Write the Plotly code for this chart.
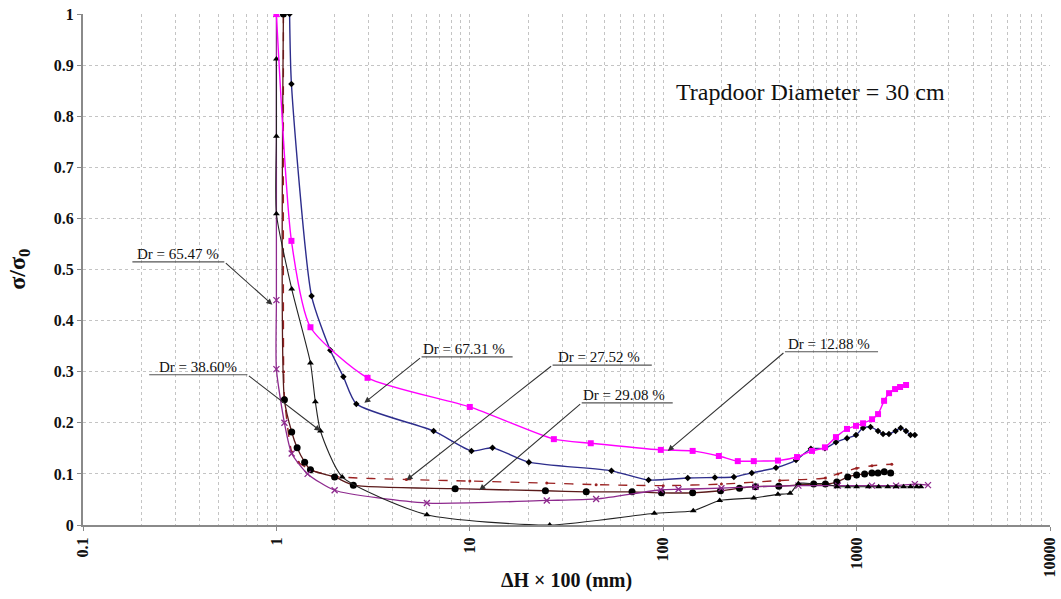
import math
import plotly.graph_objects as go

# ---------------- data ----------------
# Dr = 12.88 % (magenta, squares)
x_1288 = [1.0, 1.196, 1.50, 2.96, 10.0, 27.2, 42.2, 97.2, 142, 194, 243, 294, 392, 492, 588, 686, 782,
          892, 993, 1080, 1202, 1291, 1387, 1472, 1581, 1678, 1802]
y_1288 = [1.0, 0.556, 0.387, 0.288, 0.231, 0.168, 0.160, 0.147, 0.145, 0.135, 0.125, 0.125, 0.126, 0.133,
          0.145, 0.152, 0.172, 0.188, 0.194, 0.199, 0.207, 0.217, 0.243, 0.258, 0.266, 0.270, 0.274]

# Dr = 67.31 % (navy, small diamonds)
x_6731 = [1.17, 1.196, 1.52, 1.90, 2.22, 2.59, 6.5, 10.2, 13.1, 20.2, 54, 84, 134, 185, 232, 287, 383,
          486, 580, 686, 782, 892, 993, 1080, 1180, 1290, 1370, 1470, 1590, 1690, 1800, 1900, 2000]
y_6731 = [1.0, 0.863, 0.448, 0.342, 0.290, 0.237, 0.184, 0.145, 0.151, 0.123, 0.106, 0.088, 0.092, 0.093,
          0.094, 0.102, 0.112, 0.127, 0.149, 0.150, 0.162, 0.170, 0.176, 0.190, 0.192, 0.184, 0.178,
          0.178, 0.184, 0.190, 0.184, 0.176, 0.176]

# Dr = 38.60 % (black, triangles)
x_3860 = [1.0, 1.0, 1.0, 1.2, 1.5, 1.59, 1.69, 2.19, 6.0, 25.9, 90, 143, 196, 294, 392, 453, 500, 600,
          690, 790, 900, 1000, 1150, 1300, 1450, 1600, 1750, 1900, 2050, 2150]
y_3860 = [0.912, 0.761, 0.609, 0.462, 0.317, 0.241, 0.184, 0.094, 0.020, 0.0, 0.023, 0.028, 0.048, 0.053,
          0.060, 0.062, 0.081, 0.081, 0.081, 0.075, 0.075, 0.075, 0.075, 0.075, 0.075, 0.075, 0.075,
          0.075, 0.075, 0.075]

# Dr = 65.47 % (purple, crosses)
x_6547 = [1.0, 1.0, 1.0, 1.1, 1.2, 1.45, 2.0, 6.0, 25, 45, 97, 120, 200, 300, 500, 800, 1200, 1600,
          2000, 2340]
y_6547 = [1.0, 0.44, 0.305, 0.20, 0.14, 0.10, 0.068, 0.043, 0.048, 0.051, 0.069, 0.070, 0.072, 0.075,
          0.077, 0.077, 0.077, 0.077, 0.080, 0.078]

# Dr = 27.52 % (dark red, dashed)
x_2752 = [1.087, 1.09, 1.1, 1.2, 1.3, 1.5, 2.0, 4.7, 10, 25, 45, 100, 200, 400, 690, 800, 1000, 1200, 1520]
y_2752 = [1.0, 0.30, 0.25, 0.143, 0.123, 0.108, 0.095, 0.089, 0.086, 0.082, 0.079, 0.077, 0.080, 0.087,
          0.092, 0.100, 0.111, 0.116, 0.119]

# Dr = 29.08 % (dark brown line, large dots)
x_2908 = [1.087, 1.1, 1.2, 1.28, 1.4, 1.5, 2.0, 2.5, 8.4, 24.6, 40, 69, 98, 142, 198, 248, 300, 396,
          600, 690, 790, 900, 1000, 1100, 1200, 1290, 1390, 1500]
y_2908 = [1.0, 0.245, 0.182, 0.151, 0.123, 0.108, 0.094, 0.078, 0.071, 0.067, 0.065, 0.065, 0.063, 0.063,
          0.067, 0.072, 0.075, 0.076, 0.080, 0.080, 0.084, 0.094, 0.098, 0.100, 0.102, 0.102, 0.104, 0.102]

x_ticks = [0.1, 1, 10, 100, 1000, 10000]
x_tick_text = ["0.1", "1", "10", "100", "1000", "10000"]
y_ticks = [0, 0.1, 0.2, 0.3, 0.4, 0.5, 0.6, 0.7, 0.8, 0.9, 1]
y_tick_text = ["0", "0.1", "0.2", "0.3", "0.4", "0.5", "0.6", "0.7", "0.8", "0.9", "1"]

# label callouts: text, underline x-start, x-end, underline y, corner used ("L"/"R"), arrow tip x, y
labels = [
    ("Dr = 65.47 %", 0.18, 0.538, 0.515, "R", 0.953, 0.431),
    ("Dr = 38.60%", 0.22, 0.708, 0.294, "R", 1.69, 0.184),
    ("Dr = 67.31 %", 5.63, 16.65, 0.329, "L", 2.85, 0.239),
    ("Dr = 27.52 %", 26.8, 87.3, 0.313, "L", 4.71, 0.088),
    ("Dr = 29.08 %", 37.9, 112.0, 0.239, "L", 11.2, 0.068),
    ("Dr = 12.88 %", 426.0, 1291.0, 0.339, "L", 105.6, 0.145),
]

SERIF = "Liberation Serif, Times New Roman, serif"

fig = go.Figure()

def add_series(x, y, color, symbol, size, dash="solid", width=1.3, mcolor=None, mline=None):
    marker = dict(symbol=symbol, size=size, color=mcolor or color)
    if mline:
        marker["line"] = mline
    fig.add_trace(go.Scatter(
        x=x, y=y, mode="lines+markers",
        line=dict(color=color, width=width, dash=dash, shape="spline", smoothing=0.6),
        marker=marker, showlegend=False, hoverinfo="x+y"))

add_series(x_2752, y_2752, "#9B2222", "circle", 3, dash="dash", width=1.4)
add_series(x_2908, y_2908, "#5A1A1A", "circle", 7, width=1.3, mcolor="#000000")
add_series(x_6547, y_6547, "#8E2A8E", "x-thin", 6, width=1.3, mline=dict(color="#8E2A8E", width=1.3))
add_series(x_3860, y_3860, "#222222", "triangle-up", 6, width=1.1, mcolor="#000000")
add_series(x_6731, y_6731, "#2D2D8C", "diamond", 5, width=1.4, mcolor="#000000")
add_series(x_1288, y_1288, "#FF00FF", "square", 6, width=1.4)

annotations = []
for text, xs, xe, yu, corner, tx, ty in labels:
    fig.add_trace(go.Scatter(x=[xs, xe], y=[yu, yu], mode="lines",
                             line=dict(color="#555555", width=1.2),
                             showlegend=False, hoverinfo="skip"))
    cx = xe if corner == "R" else xs
    annotations.append(dict(
        x=math.log10(tx), y=ty, xref="x", yref="y",
        ax=math.log10(cx), ay=yu, axref="x", ayref="y",
        text="", showarrow=True, arrowhead=2, arrowsize=1.1, arrowwidth=1.1,
        arrowcolor="#333333"))
    if corner == "R":
        mid = (math.log10(xs) + math.log10(xe)) / 2
    else:
        mid = math.log10(xs) + 0.47 * (math.log10(xe) - math.log10(xs))
    annotations.append(dict(
        x=mid, y=yu, xref="x", yref="y", text=text, showarrow=False,
        yanchor="bottom", xanchor="center", yshift=-2,
        font=dict(family=SERIF, size=15, color="#111111")))

annotations.append(dict(
    x=0.752, y=0.847, xref="paper", yref="paper", text="Trapdoor Diameter = 30 cm",
    showarrow=False, xanchor="center", yanchor="middle",
    font=dict(family=SERIF, size=24, color="#111111")))

# axis titles
annotations.append(dict(
    x=0.5, y=-0.108, xref="paper", yref="paper", text="<b>ΔH × 100 (mm)</b>",
    showarrow=False, xanchor="center", yanchor="middle",
    font=dict(family=SERIF, size=20, color="#111111")))
annotations.append(dict(
    x=-0.067, y=0.5, xref="paper", yref="paper", text="<b>σ/σ<sub>0</sub></b>",
    showarrow=False, xanchor="center", yanchor="middle", textangle=-90,
    font=dict(family=SERIF, size=24, color="#111111")))

fig.update_layout(
    width=1061, height=599,
    margin=dict(l=83, r=11, t=14, b=74),
    paper_bgcolor="white", plot_bgcolor="white",
    annotations=annotations,
    showlegend=False,
    font=dict(family=SERIF, color="#111111"),
)

fig.update_xaxes(
    type="log", range=[-1, 4], automargin=False,
    tickvals=x_ticks, ticktext=[f"<b>{t}</b>" for t in x_tick_text], tickangle=-90,
    tickfont=dict(family=SERIF, size=16, color="#111111"),
    ticks="outside", ticklen=4, tickcolor="#888888",
    showline=True, linecolor="#8a8a8a", linewidth=2,
    showgrid=True, gridcolor="#c4c4c4", griddash="dot", gridwidth=1,
    minor=dict(showgrid=True, gridcolor="#c4c4c4", griddash="dot", gridwidth=1,
               tickvals=[m * 10 ** e for e in range(-1, 4) for m in range(2, 10)]),
    zeroline=False,
)
fig.update_yaxes(
    range=[0, 1], automargin=False,
    tickvals=y_ticks, ticktext=[f"<b>{t}</b>" for t in y_tick_text],
    tickfont=dict(family=SERIF, size=16, color="#111111"),
    ticks="outside", ticklen=4, tickcolor="#888888",
    showline=True, linecolor="#8a8a8a", linewidth=2,
    showgrid=True, gridcolor="#c4c4c4", griddash="dot", gridwidth=1,
    zeroline=False,
)

fig.write_html("out.html")
